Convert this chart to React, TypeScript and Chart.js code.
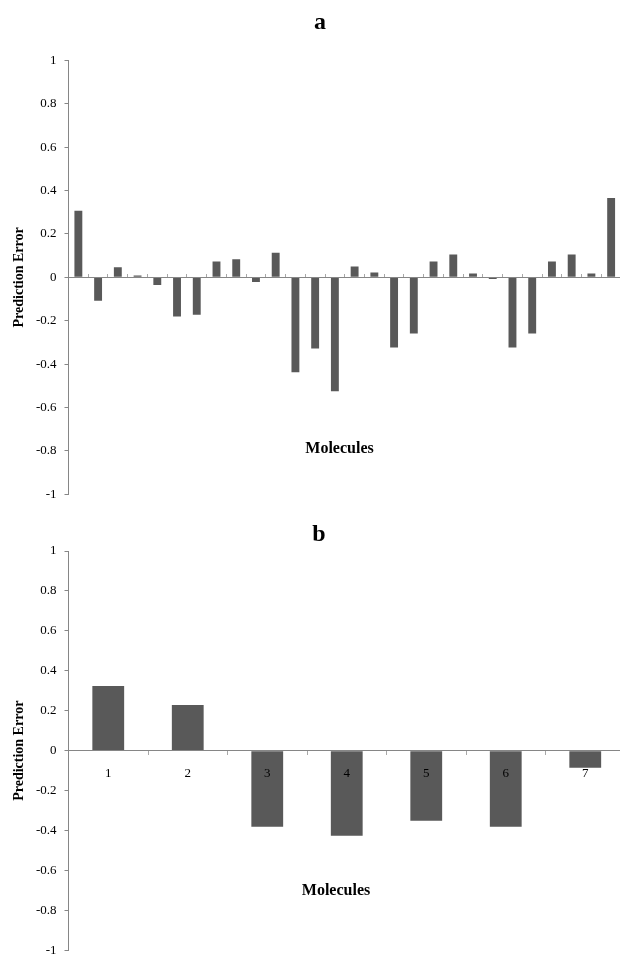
import React, { useEffect, useRef } from 'react';
import { Chart, registerables } from 'chart.js';

Chart.register(...registerables);

const FONT = "'Liberation Serif', 'Times New Roman', serif";

// Panel a: 28 molecules (no tick labels shown)
const moleculesA = ['1', '2', '3', '4', '5', '6', '7', '8', '9', '10', '11', '12', '13', '14',
  '15', '16', '17', '18', '19', '20', '21', '22', '23', '24', '25', '26', '27', '28'];
const errorsA = [0.307, -0.108, 0.046, 0.009, -0.035, -0.181, -0.172, 0.073, 0.084, -0.021,
  0.114, -0.438, -0.328, -0.525, 0.05, 0.022, -0.323, -0.259, 0.073, 0.105, 0.018, -0.008,
  -0.323, -0.259, 0.073, 0.105, 0.018, 0.366];

// Panel b: 7 molecules
const moleculesB = ['1', '2', '3', '4', '5', '6', '7'];
const errorsB = [0.324, 0.229, -0.381, -0.426, -0.351, -0.381, -0.085];

const Y_MIN = -1;
const Y_MAX = 1;
const Y_STEP = 0.2;

const BAR_COLOR = '#595959';
const AXIS_COLOR = '#868686';
const TICK_COLOR = '#a8a8a8';

type PanelOpts = {
  labels: string[];
  values: number[];
  title: string;
  titleX: number;
  titleBaseline: number;
  molX: number;
  molBaseline: number;
  showXLabels: boolean;
  xTickLength: number;
  padding: { top: number; bottom: number; left: number; right: number };
  yAxisWidth: number;
};

function buildConfig(o: PanelOpts): any {
  const textPlugin = {
    id: 'panelText',
    afterDraw(chart: any) {
      const ctx = chart.ctx;
      ctx.save();
      ctx.fillStyle = '#000';
      ctx.textAlign = 'center';
      ctx.textBaseline = 'alphabetic';
      ctx.font = `bold 24px ${FONT}`;
      ctx.fillText(o.title, o.titleX, o.titleBaseline);
      ctx.font = `bold 16px ${FONT}`;
      ctx.fillText('Molecules', o.molX, o.molBaseline);
      ctx.restore();
    },
  };
  return {
    type: 'bar',
    data: {
      labels: o.labels,
      datasets: [
        {
          data: o.values,
          backgroundColor: BAR_COLOR,
          borderWidth: 0,
          barPercentage: 0.4,
          categoryPercentage: 1,
        },
      ],
    },
    options: {
      animation: false,
      responsive: false,
      devicePixelRatio: 1,
      layout: { padding: o.padding },
      plugins: {
        legend: { display: false },
        tooltip: { enabled: false },
        title: { display: false },
      },
      scales: {
        x: {
          type: 'category',
          position: { y: 0 },
          offset: true,
          border: { display: true, color: AXIS_COLOR, width: 1, z: 1 },
          grid: {
            display: true,
            offset: true,
            drawOnChartArea: false,
            drawTicks: true,
            tickLength: o.xTickLength,
            color: TICK_COLOR,
          },
          ticks: {
            display: o.showXLabels,
            z: 1,
            color: '#000',
            padding: 11,
            maxRotation: 0,
            autoSkip: false,
            font: { family: FONT, size: 13 },
          },
        },
        y: {
          type: 'linear',
          position: 'left',
          min: Y_MIN,
          max: Y_MAX,
          afterFit: (s: any) => {
            s.width = o.yAxisWidth;
          },
          border: { display: true, color: AXIS_COLOR, width: 1 },
          grid: {
            display: true,
            drawOnChartArea: false,
            drawTicks: true,
            tickLength: 4,
            color: AXIS_COLOR,
          },
          ticks: {
            stepSize: Y_STEP,
            color: '#000',
            padding: 8,
            font: { family: FONT, size: 13 },
            callback: (v: any) => String(Math.round(Number(v) * 10) / 10),
          },
          title: {
            display: true,
            text: 'Prediction Error',
            color: '#000',
            padding: { top: 10.6, bottom: 0 },
            font: { family: FONT, size: 14, weight: 'bold' },
          },
        },
      },
    },
    plugins: [textPlugin],
  };
}

function Panel(props: { opts: PanelOpts; width: number; height: number; top: number }) {
  const ref = useRef<HTMLCanvasElement | null>(null);
  useEffect(() => {
    if (!ref.current) return;
    const chart = new Chart(ref.current, buildConfig(props.opts));
    return () => chart.destroy();
  }, []);
  return (
    <canvas
      ref={ref}
      width={props.width}
      height={props.height}
      style={{
        position: 'absolute',
        left: 0,
        top: props.top,
        width: props.width,
        height: props.height,
        display: 'block',
      }}
    />
  );
}

export default function App() {
  const panelA: PanelOpts = {
    labels: moleculesA,
    values: errorsA,
    title: 'a',
    titleX: 320,
    titleBaseline: 29,
    molX: 339.5,
    molBaseline: 453,
    showXLabels: false,
    xTickLength: -4,
    padding: { top: 60.5, bottom: 13.3, left: 0, right: 19 },
    yAxisWidth: 68.5,
  };
  const panelB: PanelOpts = {
    labels: moleculesB,
    values: errorsB,
    title: 'b',
    titleX: 319,
    titleBaseline: 31,
    molX: 336,
    molBaseline: 385,
    showXLabels: true,
    xTickLength: 4,
    padding: { top: 41, bottom: 19.5, left: 0, right: 15 },
    yAxisWidth: 68.5,
  };
  return (
    <div
      style={{
        position: 'absolute',
        left: 0,
        top: 0,
        width: 620,
        height: 955,
        overflow: 'hidden',
        background: '#fff',
      }}
    >
      <Panel opts={panelA} width={640} height={510} top={0} />
      <Panel opts={panelB} width={640} height={460} top={510} />
    </div>
  );
}
